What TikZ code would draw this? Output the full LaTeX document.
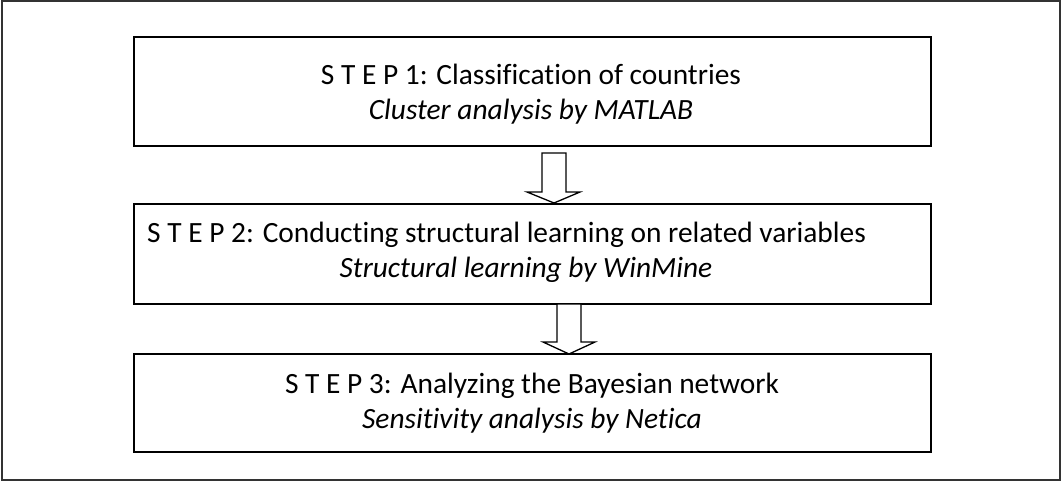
\documentclass[tikz,border=0pt]{standalone}
\usepackage{fontspec}
\setmainfont[Ligatures={NoCommon}]{Carlito}
\begin{document}
\begin{tikzpicture}[x=1pt,y=-1pt,
  stepbox/.style={draw=black,line width=2pt,minimum width=797pt,inner sep=0pt},
  blockarrow/.style={draw=black,line width=1.3pt,fill=white,line join=miter},
  txt/.style={inner sep=0pt,font=\fontsize{29.4}{35}\selectfont},
  frame/.style={draw=black!80,line width=2pt}]
\useasboundingbox (0,0) rectangle (1062,482);
\node[frame,minimum width=1058pt,minimum height=479pt,inner sep=0pt] (outer) at (531,240.5) {};
\node[stepbox,minimum height=109pt] (s1) at (532.5,91.5) {};
\node[stepbox,minimum height=100pt] (s2) at (532.5,254) {};
\node[stepbox,minimum height=98pt] (s3) at (532.5,403) {};
% texts
\node[txt,anchor=base] (t1a) at (531,84) {S T E P 1: Classification of countries};
\node[txt,anchor=base] (t1b) at (531,119) {\itshape Cluster analysis by MATLAB};
\node[txt,anchor=base west] (t2a) at (147,242) {S T E P 2: Conducting structural learning on related variables};
\node[txt,anchor=base] (t2b) at (526,277) {\itshape Structural learning by WinMine};
\node[txt,anchor=base] (t3a) at (532,393) {S T E P 3: Analyzing the Bayesian network};
\node[txt,anchor=base] (t3b) at (532,428) {\itshape Sensitivity analysis by Netica};
% block arrows
\draw[blockarrow] (542,153) -- (566,153) -- (566,192) -- (580,192) -- (554,203) -- (527,192) -- (542,192) -- cycle;
\draw[blockarrow] (557,304) -- (581,304) -- (581,342) -- (595,342) -- (569,354) -- (543,342) -- (557,342) -- cycle;
\end{tikzpicture}
\end{document}
